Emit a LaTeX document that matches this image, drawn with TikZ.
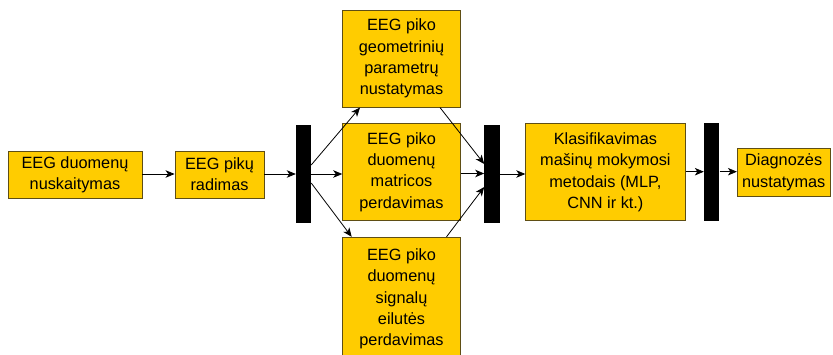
\documentclass[tikz,border=0pt]{standalone}
\usepackage{fontspec}
\setmainfont{Liberation Sans}
\usetikzlibrary{arrows.meta}
\definecolor{boxfill}{HTML}{FFCC00}
\definecolor{boxline}{RGB}{95,78,20}
\begin{document}
\begin{tikzpicture}[x=1pt,y=-1pt,
  box/.style={draw=boxline,fill=boxfill,line width=0.9pt,inner sep=0pt,align=center,
    font=\fontsize{16.3}{21.3}\selectfont,text=black},
  bar/.style={fill=black,draw=none,inner sep=0pt},
  arr/.style={line width=0.8pt,-{Stealth[length=9pt,width=7.5pt,inset=2.5pt]}}]
\useasboundingbox (0,0) rectangle (833,355);
\node[box,minimum width=134pt,minimum height=47pt] (b1) at (75,174.5) {EEG duomenų\\nuskaitymas};
\node[box,minimum width=89pt,minimum height=47pt] (b2) at (219.5,174.5) {EEG pikų\\radimas};
\node[bar,minimum width=15pt,minimum height=98pt] (bar1) at (303.5,174) {};
\node[box,minimum width=117.6pt,minimum height=97pt] (top) at (401.5,58.6) {EEG piko\\geometrinių\\parametrų\\nustatymas};
\node[box,minimum width=117.6pt,minimum height=97.4pt] (mid) at (401.5,172) {EEG piko\\duomenų\\matricos\\perdavimas};
\node[box,minimum width=117.6pt,minimum height=123pt] (bot) at (401.5,298.8) {EEG piko\\duomenų\\signalų\\eilutės\\perdavimas};
\node[bar,minimum width=15.6pt,minimum height=97.7pt] (bar2) at (492.2,174) {};
\node[box,minimum width=159.3pt,minimum height=96.7pt] (kl) at (605.4,172.3) {Klasifikavimas\\mašinų mokymosi\\metodais (MLP,\\CNN ir kt.)};
\node[bar,minimum width=15.3pt,minimum height=97.4pt] (bar3) at (711.7,172) {};
\node[box,minimum width=92.7pt,minimum height=47.7pt] (dg) at (783.7,172.2) {Diagnozės\\nustatymas};
\draw[arr] (b1.east|-0,174) -- (b2.west|-0,174);
\draw[arr] (b2.east|-0,174) -- (bar1.west|-0,174);
\draw[arr] (bar1.east|-0,174) -- (mid.west|-0,174);
\draw[arr] ([yshift=9pt]bar1.east) -- ([xshift=-41.5pt]top.south);
\draw[arr] ([yshift=-9pt]bar1.east) -- ([xshift=-49.8pt]bot.north);
\draw[arr] (mid.east|-0,173.5) -- (bar2.west|-0,173.5);
\draw[arr] ([xshift=38.5pt]top.south) -- ([yshift=10pt]bar2.west);
\draw[arr] ([xshift=45pt]bot.north) -- ([yshift=-13pt]bar2.west);
\draw[arr] (bar2.east|-0,174) -- (kl.west|-0,174);
\draw[arr] (kl.east|-0,171.7) -- (bar3.west|-0,171.7);
\draw[arr] (bar3.east|-0,171.7) -- (dg.west|-0,171.7);
\end{tikzpicture}
\end{document}
